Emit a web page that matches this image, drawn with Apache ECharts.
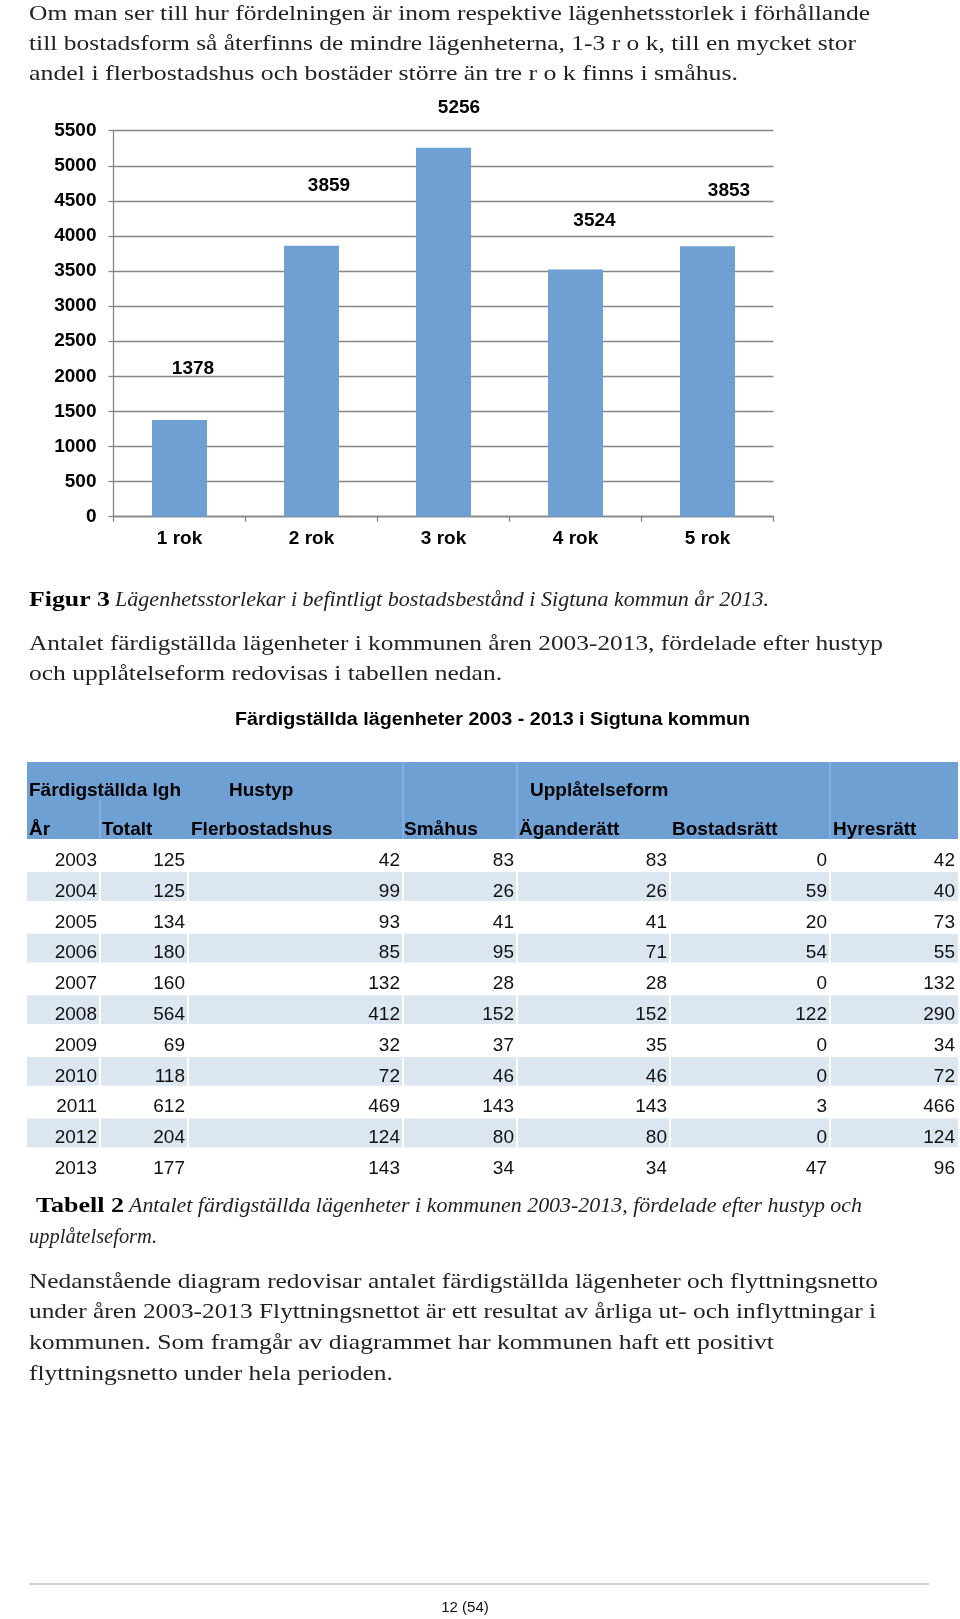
<!DOCTYPE html>
<html><head><meta charset="utf-8">
<script src="https://cdn.jsdelivr.net/npm/echarts@6/dist/echarts.min.js"></script>
<style>html,body{margin:0;padding:0;background:#fff}#c{width:960px;height:1619px}</style>
</head><body><div id="c"></div>
<script>
// ---------- data ----------
const sizeCategories = ['1 rok', '2 rok', '3 rok', '4 rok', '5 rok'];
const sizeValues = [1378, 3859, 5256, 3524, 3853];

const tableTitle = 'Färdigställda lägenheter 2003 - 2013 i Sigtuna kommun';
const tableColumns = ['År', 'Totalt', 'Flerbostadshus', 'Småhus', 'Äganderätt', 'Bostadsrätt', 'Hyresrätt'];
const tableGroups = ['Färdigställda lgh', 'Hustyp', 'Upplåtelseform'];
const tableYears = ['2003', '2004', '2005', '2006', '2007', '2008', '2009', '2010', '2011', '2012', '2013'];
const totalt = [125, 125, 134, 180, 160, 564, 69, 118, 612, 204, 177];
const flerbostadshus = [42, 99, 93, 85, 132, 412, 32, 72, 469, 124, 143];
const smahus = [83, 26, 41, 95, 28, 152, 37, 46, 143, 80, 34];
const aganderatt = [83, 26, 41, 71, 28, 152, 35, 46, 143, 80, 34];
const bostadsratt = [0, 59, 20, 54, 0, 122, 0, 0, 3, 0, 47];
const hyresratt = [42, 40, 73, 55, 132, 290, 34, 72, 466, 124, 96];

const para1 = [
  'Om man ser till hur fördelningen är inom respektive lägenhetsstorlek i förhållande',
  'till bostadsform så återfinns de mindre lägenheterna, 1-3 r o k, till en mycket stor',
  'andel i flerbostadshus och bostäder större än tre r o k finns i småhus.'
];
const caption1 = ['Figur 3', 'Lägenhetsstorlekar i befintligt bostadsbestånd i Sigtuna kommun år 2013.'];
const para2 = [
  'Antalet färdigställda lägenheter i kommunen åren 2003-2013, fördelade efter hustyp',
  'och upplåtelseform redovisas i tabellen nedan.'
];
const caption2 = ['Tabell 2', 'Antalet färdigställda lägenheter i kommunen 2003-2013, fördelade efter hustyp och', 'upplåtelseform.'];
const para3 = [
  'Nedanstående diagram redovisar antalet färdigställda lägenheter och flyttningsnetto',
  'under åren 2003-2013 Flyttningsnettot är ett resultat av årliga ut- och inflyttningar i',
  'kommunen. Som framgår av diagrammet har kommunen haft ett positivt',
  'flyttningsnetto under hela perioden.'
];
const pageNumber = '12 (54)';

// ---------- helpers ----------
const SERIF = 'Liberation Serif';
const SANS = 'Liberation Sans';
const mctx = document.createElement('canvas').getContext('2d');
function txt(str, x, y, size, right, o) {
  o = o || {};
  const fam = o.family || SERIF;
  const fs = o.italic ? 'italic' : 'normal';
  const fw = o.bold ? 'bold' : 'normal';
  mctx.font = fs + ' ' + fw + ' ' + size + 'px "' + fam + '"';
  const w = mctx.measureText(str).width;
  const sx = right ? (right - x) / w : 1;
  return {
    type: 'text', x: x, y: y, scaleX: sx, silent: true,
    style: {
      text: str, fontSize: size, fontFamily: fam, fontStyle: fs, fontWeight: fw,
      fill: o.color || '#222', textAlign: 'left', textVerticalAlign: 'middle'
    }
  };
}

const graphics = [];
// paragraph 1
const p1Right = [870, 856, 738];
para1.forEach((s, i) => graphics.push(txt(s, 29, 14 + i * 30, 22, p1Right[i])));
// caption 1
graphics.push(txt(caption1[0], 29, 600, 22, 110, {bold: true, color: '#000'}));
graphics.push(txt(caption1[1], 115, 600, 22, 769, {italic: true}));
// paragraph 2
const p2Right = [883, 502];
para2.forEach((s, i) => graphics.push(txt(s, 29, 644 + i * 30, 22, p2Right[i])));
// table title
graphics.push(txt(tableTitle, 235, 720, 18, 750, {family: SANS, bold: true, color: '#000'}));
// table header
const colEdges = [0, 73, 161, 376, 490, 643, 803, 931];
const TL = 27;
graphics.push({type: 'rect', shape: {x: TL, y: 762, width: 931, height: 77}, style: {fill: '#6FA0D3'}, silent: true});
[376, 490, 803].forEach(e => graphics.push({type: 'line', shape: {x1: TL + e, y1: 762, x2: TL + e, y2: 839}, style: {stroke: '#8CB4DF', lineWidth: 1.5}, silent: true}));
[73].forEach(e => graphics.push({type: 'line', shape: {x1: TL + e, y1: 801, x2: TL + e, y2: 839}, style: {stroke: '#8CB4DF', lineWidth: 1.5}, silent: true}));
const groupX = [29, 229, 530];
tableGroups.forEach((g, i) => graphics.push(txt(g, groupX[i], 791, 19, null, {family: SANS, bold: true, color: '#000'})));
const headX = [29, 102, 191, 404, 519, 672, 833];
tableColumns.forEach((c, i) => graphics.push(txt(c, headX[i], 830, 19, null, {family: SANS, bold: true, color: '#000'})));
// caption 2
graphics.push(txt(caption2[0], 36, 1206, 22, 124, {bold: true, color: '#000'}));
graphics.push(txt(caption2[1], 129, 1206, 22, 862, {italic: true}));
graphics.push(txt(caption2[2], 29, 1237, 22, 157, {italic: true}));
// paragraph 3
const p3Right = [878, 876, 774, 393];
para3.forEach((s, i) => graphics.push(txt(s, 29, 1282 + i * 30.7, 22, p3Right[i])));
// footer
graphics.push({type: 'line', shape: {x1: 29, y1: 1584, x2: 929, y2: 1584}, style: {stroke: '#a0a0a0', lineWidth: 1}, silent: true});
graphics.push({type: 'text', x: 465, y: 1608, silent: true, style: {text: pageNumber, fontSize: 15, fontFamily: SANS, fill: '#111', textAlign: 'center', textVerticalAlign: 'middle'}});

// ---------- table cells ----------
const tableCols = [tableYears.map(Number), totalt, flerbostadshus, smahus, aganderatt, bostadsratt, hyresratt];
const cellData = [];
tableYears.forEach((y, r) => tableCols.forEach((col, c) => cellData.push([c, r, col[r]])));

// ---------- bar chart label styling ----------
const labelOffsets = [[13.5, -42], [17.5, -50.5], [15.5, -31], [19, -39], [21.5, -46]];
const GRID_COLOR = '#858585';

const option = {
  backgroundColor: '#fff',
  animation: false,
  graphic: graphics,
  grid: [
    {left: 113.5, top: 130.7, width: 660, height: 386},
    {left: TL, top: 840.3, width: 931, height: 338.8}
  ],
  xAxis: [
    {
      type: 'category', gridIndex: 0, data: sizeCategories, boundaryGap: true,
      axisLine: {show: true, lineStyle: {color: GRID_COLOR, width: 1.3}},
      axisTick: {show: true, length: 5, inside: false, lineStyle: {color: GRID_COLOR, width: 1.3}},
      axisLabel: {fontSize: 19, fontWeight: 'bold', fontFamily: SANS, color: '#000', margin: 13}
    },
    {type: 'value', gridIndex: 1, min: 0, max: 931, show: false}
  ],
  yAxis: [
    {
      type: 'value', gridIndex: 0, min: 0, max: 5500, interval: 500,
      axisLine: {show: true, lineStyle: {color: GRID_COLOR, width: 1.3}},
      axisTick: {show: true, length: 5, lineStyle: {color: GRID_COLOR, width: 1.3}},
      splitLine: {show: true, lineStyle: {color: GRID_COLOR, width: 1.3}},
      axisLabel: {fontSize: 19, fontWeight: 'bold', fontFamily: SANS, color: '#000', margin: 17, formatter: v => String(v)}
    },
    {type: 'category', gridIndex: 1, data: tableYears, inverse: true, show: false}
  ],
  series: [
    {
      type: 'bar', xAxisIndex: 0, yAxisIndex: 0, barWidth: 55,
      itemStyle: {color: '#6FA0D3'},
      data: sizeValues.map((v, i) => ({value: v, label: {offset: labelOffsets[i]}})),
      label: {show: true, position: 'top', distance: 0, fontSize: 19, fontWeight: 'bold', fontFamily: SANS, color: '#000'}
    },
    {
      type: 'custom', xAxisIndex: 1, yAxisIndex: 1, data: cellData,
      encode: {x: 0, y: 1},
      renderItem: function (params, api) {
        const c = api.value(0), r = api.value(1), v = api.value(2);
        const left = api.coord([colEdges[c], r])[0];
        const right = api.coord([colEdges[c + 1], r])[0];
        const cy = api.coord([0, r])[1];
        const h = api.size([0, 1])[1];
        const children = [];
        if (r % 2 === 1) {
          const l = c > 0 ? left + 1 : left;
          const rr = c < colEdges.length - 2 ? right - 1 : right;
          children.push({type: 'rect', shape: {x: l, y: cy - h / 2 + 1, width: rr - l, height: h - 2}, style: {fill: '#DCE6F1'}});
        }
        children.push({type: 'text', x: right - 3, y: cy + 5, style: {text: String(v), textAlign: 'right', textVerticalAlign: 'middle', fontSize: 19, fontFamily: SANS, fill: '#111'}});
        return {type: 'group', children: children};
      }
    }
  ]
};

const chart = echarts.init(document.getElementById('c'), null, {renderer: 'canvas', width: 960, height: 1619});
chart.setOption(option);
</script>
</body></html>
